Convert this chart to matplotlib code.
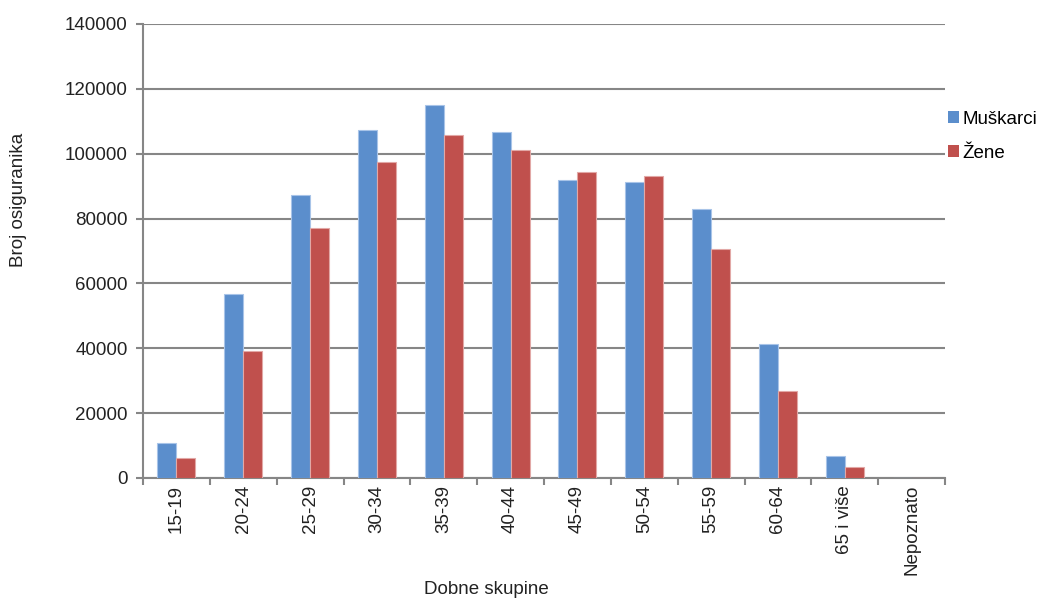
import matplotlib
matplotlib.use("Agg")
import matplotlib.pyplot as plt
import numpy as np
from matplotlib.patches import Patch

plt.rcParams['font.family'] = ['Liberation Sans', 'DejaVu Sans']

categories = ["15-19", "20-24", "25-29", "30-34", "35-39", "40-44", "45-49",
              "50-54", "55-59", "60-64", "65 i više", "Nepoznato"]
muskarci = [10800, 56600, 87400, 107400, 115000, 106600, 92000, 91200, 83000, 41400, 6900, 0]
zene = [6300, 39200, 77000, 97500, 105900, 101000, 94400, 93200, 70700, 26900, 3400, 0]
yticks = [0, 20000, 40000, 60000, 80000, 100000, 120000, 140000]

blue = "#5B8ECC"
red = "#C0504D"
grid_c = "#868686"
txt_c = "#222222"
fs = 13.5

fig = plt.figure(figsize=(10.40, 5.99), dpi=100)
ax = fig.add_axes([143/1040, 1-478/599, (945-143)/1040, (478-24)/599])

x = np.arange(len(categories))
w = 0.285
ax.bar(x - w/2, muskarci, w, color=blue, edgecolor="#A8C4E8", linewidth=0.8, zorder=3)
ax.bar(x + w/2, zene, w, color=red, edgecolor="#E2A8A6", linewidth=0.8, zorder=3)

ax.set_xlim(-0.5, len(categories) - 0.5)
ax.set_ylim(0, 140000)
ax.set_yticks(yticks)
ax.set_yticklabels([str(v) for v in yticks], fontsize=fs, color=txt_c)
ax.yaxis.grid(True, color=grid_c, linewidth=1.5, zorder=0)
ax.set_axisbelow(True)

ax.set_xticks(x)
ax.set_xticklabels(categories, rotation=90, fontsize=fs, color=txt_c)
ax.tick_params(axis='x', length=0, pad=5)
ax.set_xticks(np.arange(-0.5, len(categories)), minor=True)
ax.tick_params(axis='x', which='minor', length=5, color=grid_c, width=1.5)
ax.tick_params(axis='y', length=5, color=grid_c, width=1.5, pad=6)

for s in ["top", "right"]:
    ax.spines[s].set_visible(False)
for s in ["left", "bottom"]:
    ax.spines[s].set_color(grid_c)
    ax.spines[s].set_linewidth(1.5)

ax.set_xlabel("Dobne skupine", fontsize=fs, color=txt_c)
ax.xaxis.set_label_coords((486-143)/(945-143), -(581-478)/(478-24))
ax.set_ylabel("Broj osiguranika", fontsize=fs, color=txt_c)
ax.yaxis.set_label_coords(-(143-27)/(945-143), (478-200)/(478-24))

handles = [Patch(facecolor=blue, edgecolor="none"), Patch(facecolor=red, edgecolor="none")]
fig.legend(handles, ["Muškarci", "Žene"], loc="upper left",
           bbox_to_anchor=(948/1040, 1-111/599), frameon=False, fontsize=fs,
           borderpad=0, borderaxespad=0,
           handlelength=0.6, handleheight=0.6, handletextpad=0.15, labelspacing=0.9)

fig.savefig("out.png", dpi=100)
